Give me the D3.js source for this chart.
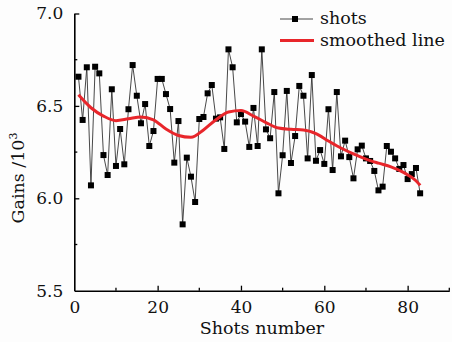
<!DOCTYPE html>
<html>
<head>
<meta charset="utf-8">
<script src="https://cdn.jsdelivr.net/npm/d3@7"></script>
<style>
  body { margin: 0; background: #fdfdfd; }
  svg { display: block; font-family: "DejaVu Serif", serif; }
</style>
</head>
<body>
<div class="chart"></div>
<script>
// shots data (shot number / gain x10^3)
const shotNo = d3.range(1, 84);
const shotGain = [
  6.658, 6.424, 6.709, 6.070, 6.712, 6.676, 6.234, 6.126, 6.590, 6.175,
  6.375, 6.184, 6.482, 6.721, 6.555, 6.406, 6.510, 6.283, 6.364, 6.646,
  6.646, 6.564, 6.483, 6.193, 6.418, 5.859, 6.220, 6.117, 5.980, 6.429,
  6.440, 6.568, 6.613, 6.431, 6.438, 6.267, 6.806, 6.709, 6.411, 6.456,
  6.415, 6.278, 6.489, 6.283, 6.806, 6.373, 6.325, 6.575, 6.027, 6.233,
  6.581, 6.191, 6.337, 6.608, 6.555, 6.216, 6.667, 6.203, 6.261, 6.186,
  6.482, 6.153, 6.575, 6.227, 6.312, 6.223, 6.108, 6.265, 6.285, 6.216,
  6.202, 6.148, 6.043, 6.063, 6.283, 6.252, 6.216, 6.159, 6.180, 6.104,
  6.131, 6.164, 6.027
];

const smoothNo = [1, 4, 7, 10, 13, 16, 19, 22, 25, 28, 31, 34, 37, 40, 43, 46,
  49, 52, 55, 58, 61, 64, 67, 70, 73, 76, 79, 82, 83];
const smoothGain = [6.56, 6.49, 6.445, 6.42, 6.43, 6.44, 6.425, 6.375, 6.34, 6.33,
  6.37, 6.425, 6.467, 6.475, 6.445, 6.41, 6.38, 6.373, 6.37, 6.35, 6.31, 6.272,
  6.24, 6.212, 6.19, 6.17, 6.14, 6.095, 6.07];

const xMajor = [0, 20, 40, 60, 80];
const xMinor = [10, 30, 50, 70, 90];
const yMajor = [5.5, 6.0, 6.5, 7.0];
const yMinor = [5.75, 6.25, 6.75];

const W = 452, H = 342;
const margin = {top: 13.5, right: 2.7, bottom: 51.3, left: 74.3};
const width = W - margin.left - margin.right;
const height = H - margin.top - margin.bottom;

const svg = d3.select(".chart").append("svg")
    .attr("width", W)
    .attr("height", H);
const g = svg.append("g")
    .attr("transform", "translate(" + margin.left + "," + margin.top + ")");

const x = d3.scaleLinear().domain([0, 90]).range([0, width]);
const y = d3.scaleLinear().domain([5.5, 7.0]).range([height, 0]);

// x axis (ticks point inward)
const xAxis = d3.axisBottom(x)
    .tickValues(xMajor)
    .tickFormat(d3.format("d"))
    .tickSizeInner(-5)
    .tickSizeOuter(0)
    .tickPadding(10);
const gx = g.append("g")
    .attr("transform", "translate(0," + height + ")")
    .call(xAxis);
gx.selectAll(".tick").filter(d => d === 0).select("line").remove();
gx.append("g").selectAll("line")
    .data(xMinor)
    .join("line")
    .attr("x1", d => x(d)).attr("x2", d => x(d))
    .attr("y1", 0).attr("y2", -3)
    .attr("stroke", "#000").attr("stroke-width", 1.3);

// y axis
const yAxis = d3.axisLeft(y)
    .tickValues(yMajor)
    .tickFormat(d3.format(".1f"))
    .tickSizeInner(-5)
    .tickSizeOuter(0)
    .tickPadding(11);
const gy = g.append("g").call(yAxis);
gy.selectAll(".tick").filter(d => d === 5.5).select("line").remove();
gy.append("g").selectAll("line")
    .data(yMinor)
    .join("line")
    .attr("y1", d => y(d)).attr("y2", d => y(d))
    .attr("x1", 0).attr("x2", 3)
    .attr("stroke", "#000").attr("stroke-width", 1.3);

[gx, gy].forEach(a => {
  a.select(".domain").attr("stroke-width", 1.6);
  a.selectAll(".tick line").attr("stroke-width", 1.3);
  a.selectAll(".tick text")
      .attr("font-family", "DejaVu Serif, serif")
      .attr("font-size", 17)
      .attr("fill", "#111");
});

// shots: thin line + square markers
const shotLine = d3.line()
    .x((d, i) => x(shotNo[i]))
    .y(d => y(d));
g.append("path")
    .datum(shotGain)
    .attr("fill", "none")
    .attr("stroke", "#333")
    .attr("stroke-width", 0.9)
    .attr("d", shotLine);

const ms = 6;
g.append("g").selectAll("rect")
    .data(shotGain)
    .join("rect")
    .attr("x", (d, i) => x(shotNo[i]) - ms / 2)
    .attr("y", d => y(d) - ms / 2)
    .attr("width", ms)
    .attr("height", ms)
    .attr("fill", "#000");

// smoothed line
const smoothLine = d3.line()
    .x((d, i) => x(smoothNo[i]))
    .y(d => y(d))
    .curve(d3.curveMonotoneX);
g.append("path")
    .datum(smoothGain)
    .attr("fill", "none")
    .attr("stroke", "#e8262b")
    .attr("stroke-width", 3)
    .attr("d", smoothLine);

// axis titles
svg.append("text")
    .attr("x", 262)
    .attr("y", 334)
    .attr("text-anchor", "middle")
    .attr("font-size", 17.5)
    .attr("fill", "#111")
    .text("Shots number");

const yl = svg.append("text")
    .attr("transform", "translate(24,178) rotate(-90)")
    .attr("text-anchor", "middle")
    .attr("font-size", 17.5)
    .attr("fill", "#111");
yl.append("tspan").text("Gains /10");
yl.append("tspan").attr("dy", -7).attr("font-size", 11).text("3");

// legend
const leg = svg.append("g");
leg.append("line")
    .attr("x1", 280).attr("x2", 313).attr("y1", 19).attr("y2", 19)
    .attr("stroke", "#333").attr("stroke-width", 0.9);
leg.append("rect")
    .attr("x", 295 - ms / 2).attr("y", 19 - ms / 2)
    .attr("width", ms).attr("height", ms).attr("fill", "#000");
leg.append("text")
    .attr("x", 320).attr("y", 24)
    .attr("font-size", 17.5).attr("fill", "#111")
    .text("shots");
leg.append("line")
    .attr("x1", 280).attr("x2", 314).attr("y1", 40.5).attr("y2", 40.5)
    .attr("stroke", "#e8262b").attr("stroke-width", 3);
leg.append("text")
    .attr("x", 320).attr("y", 46)
    .attr("font-size", 17.5).attr("fill", "#111")
    .text("smoothed line");
</script>
</body>
</html>
